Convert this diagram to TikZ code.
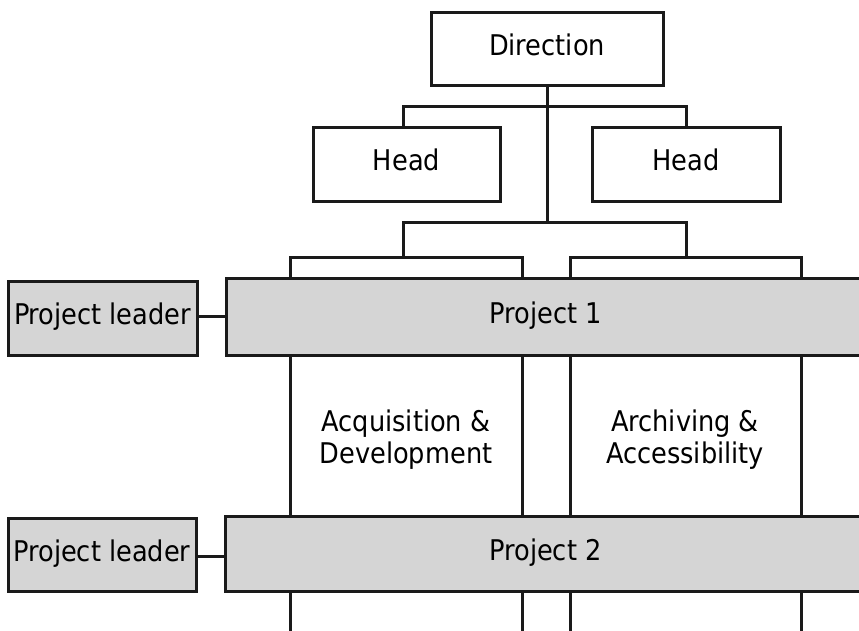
\documentclass[tikz,border=0pt]{standalone}
\usepackage{fontspec}
\setmainfont{DejaVu Sans Condensed}
\definecolor{boxgray}{HTML}{D5D5D5}
\definecolor{ink}{HTML}{1A1A1A}
\tikzset{
  x=1pt, y=-1pt,
  box/.style={draw=ink, line width=3pt, rectangle, inner sep=0pt,
    text height=21pt, text depth=7.5pt,
    font=\fontsize{28.5}{33}\selectfont},
  whitebox/.style={box, fill=white},
  graybox/.style={box, fill=boxgray},
  unitlabel/.style={align=center, inner sep=0pt, font=\fontsize{28.5}{32}\selectfont},
  link/.style={line width=3pt, draw=ink}
}
\begin{document}
\begin{tikzpicture}
\clip (0,0) rectangle (859,630);
\fill[white] (0,0) rectangle (859,630);
% boxes
\node[whitebox, minimum width=232pt, minimum height=73pt] (dir) at (547,48.5) {Direction};
\node[whitebox, minimum width=187pt, minimum height=74pt] (headL) at (406.5,164) {Head};
\node[whitebox, minimum width=188pt, minimum height=74pt] (headR) at (686,164) {Head};
\node[graybox, minimum width=189pt, minimum height=74pt] (pl1) at (102.5,318) {Project leader};
\node[graybox, minimum width=640pt, minimum height=77pt] (p1) at (546,316.5) {Project 1};
\node[graybox, minimum width=188pt, minimum height=73pt] (pl2) at (102,554.5) {Project leader};
\node[graybox, minimum width=641pt, minimum height=75pt] (p2) at (545.5,553.5) {Project 2};
\node[unitlabel] (dept1) at (406,440) {Acquisition \&\\Development};
\node[unitlabel] (dept2) at (685,440) {Archiving \&\\Accessibility};
% reference coordinates
\coordinate (xa) at (290,0);
\coordinate (xb) at (522,0);
\coordinate (xc) at (570,0);
\coordinate (xd) at (801,0);
\coordinate (xl) at (403,0);
\coordinate (xr) at (686,0);
\coordinate (bar1) at (0,106);
\coordinate (bar2) at (0,222);
\coordinate (bar3) at (0,257);
\coordinate (bottom) at (0,632);
% top links
\draw[link] (dir.south) -- (dir.south |- bar2);
\draw[link] (headL.north -| xl) -- (xl |- bar1) -- (xr |- bar1) -- (headR.north -| xr);
\draw[link] (xl |- bar3) -- (xl |- bar2) -- (xr |- bar2) -- (xr |- bar3);
\draw[link] (p1.north -| xa) -- (xa |- bar3) -- (xb |- bar3) -- (p1.north -| xb);
\draw[link] (p1.north -| xc) -- (xc |- bar3) -- (xd |- bar3) -- (p1.north -| xd);
% columns
\foreach \c in {xa,xb,xc,xd}{
  \draw[link] (p1.south -| \c) -- (p2.north -| \c);
  \draw[link] (p2.south -| \c) -- (bottom -| \c);
}
% leaders
\draw[link] (pl1.east |- 0,316) -- (p1.west |- 0,316);
\draw[link] (pl2.east |- 0,556) -- (p2.west |- 0,556);
\end{tikzpicture}
\end{document}
